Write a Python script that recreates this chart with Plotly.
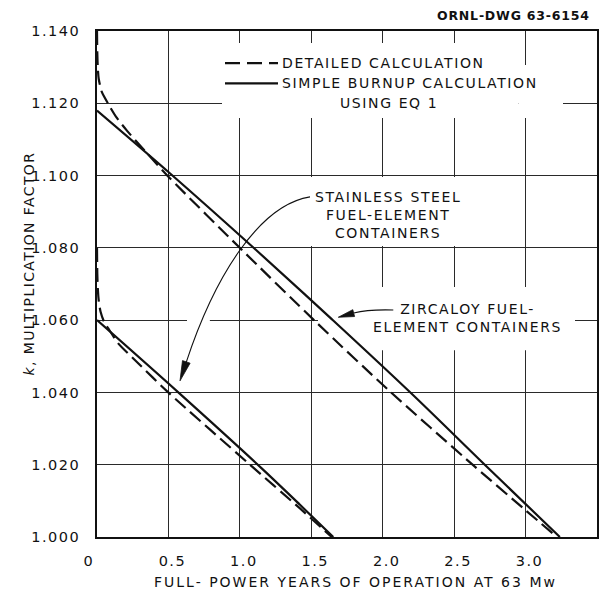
import plotly.graph_objects as go

# Zircaloy fuel-element containers: full-power years at 63 Mw vs k
zr_detailed_years = [0, 0.002, 0.006, 0.012, 0.033, 0.079, 0.138, 0.208, 0.336, 0.5,
                     1.01, 1.54, 2.05, 2.635, 3.0, 3.22]
zr_detailed_k = [1.140, 1.134, 1.1295, 1.1268, 1.1232, 1.1198, 1.1160, 1.1125, 1.1068, 1.0997,
                 1.0796, 1.0592, 1.0403, 1.0198, 1.0074, 1.000]
zr_simple_years = [0, 0.5, 1.10, 1.645, 2.19, 2.74, 3.24]
zr_simple_k = [1.118, 1.101, 1.0799, 1.0602, 1.0401, 1.0190, 1.000]

# Stainless steel fuel-element containers
ss_detailed_years = [0, 0.002, 0.006, 0.012, 0.025, 0.05, 0.079, 0.15, 0.254, 0.499,
                     1.071, 1.421, 1.643]
ss_detailed_k = [1.080, 1.073, 1.0685, 1.0655, 1.0623, 1.0595, 1.0577, 1.0535, 1.0494, 1.040,
                 1.020, 1.0079, 1.000]
ss_simple_years = [0, 0.575, 1.153, 1.421, 1.654]
ss_simple_k = [1.060, 1.0398, 1.0190, 1.0089, 1.000]

x_ticks = [0, 0.5, 1.0, 1.5, 2.0, 2.5, 3.0, 3.5]
x_tick_labels = ["0", "0.5", "1.0", "1.5", "2.0", "2.5", "3.0", "3.5"]
y_ticks = [1.000, 1.020, 1.040, 1.060, 1.080, 1.100, 1.120, 1.140]
y_tick_labels = ["1.000", "1.020", "1.040", "1.060", "1.080", "1.100", "1.120", "1.140"]

FONT = "DejaVu Sans"
INK = "#111111"
NBSP = "\u00a0"


def spaced(text, px):
    return f'<span style="letter-spacing:{px}px">{text}</span>'


fig = go.Figure()

dash_style = "14px,6px"
for xs, ys in [(zr_detailed_years, zr_detailed_k), (ss_detailed_years, ss_detailed_k)]:
    fig.add_trace(go.Scatter(x=xs, y=ys, mode="lines", cliponaxis=False,
                             line=dict(color=INK, width=2.2, dash=dash_style,
                                       shape="spline", smoothing=0.7),
                             hoverinfo="skip", showlegend=False))
for xs, ys in [(zr_simple_years, zr_simple_k), (ss_simple_years, ss_simple_k)]:
    fig.add_trace(go.Scatter(x=xs, y=ys, mode="lines", cliponaxis=False,
                             line=dict(color=INK, width=2.2, shape="spline", smoothing=1.0),
                             hoverinfo="skip", showlegend=False))

# white patches that break the grid behind the lettering
grid_breaks = [
    (0.875, 2.95, 1.1159, 1.1367),
    (2.95, 3.262, 1.1159, 1.1306),
    (1.456, 2.597, 1.0805, 1.0996),
    (1.547, 3.346, 1.0517, 1.0692),
    (0.63, 0.79, 1.0597, 1.0614),
]
for x0, x1, y0, y1 in grid_breaks:
    fig.add_shape(type="rect", xref="x", yref="y", x0=x0, x1=x1, y0=y0, y1=y1,
                  fillcolor="white", line=dict(width=0), layer="between")

# legend samples
fig.add_shape(type="line", xref="x", yref="y", x0=0.896, x1=1.267, y0=1.1311, y1=1.1311,
              line=dict(color=INK, width=2.2, dash="15px,7px"))
fig.add_shape(type="line", xref="x", yref="y", x0=0.896, x1=1.267, y0=1.1255, y1=1.1255,
              line=dict(color=INK, width=2.2))

text_font = dict(family=FONT, size=14, color=INK)
fig.add_annotation(x=1.281, y=1.1311, xref="x", yref="y", xanchor="left", yanchor="middle",
                   text=spaced("DETAILED CALCULATION", 1.6), showarrow=False, font=text_font)
fig.add_annotation(x=1.281, y=1.1255, xref="x", yref="y", xanchor="left", yanchor="middle",
                   text=spaced("SIMPLE BURNUP CALCULATION", 1.6), showarrow=False, font=text_font)
fig.add_annotation(x=2.045, y=1.1201, xref="x", yref="y", xanchor="center", yanchor="middle",
                   text=spaced("USING EQ 1", 1.6), showarrow=False, font=text_font)

# case labels
fig.add_annotation(x=2.037, y=1.0891, xref="x", yref="y", xanchor="center", yanchor="middle",
                   align="center", showarrow=False, font=text_font,
                   text=spaced("STAINLESS STEEL<br>FUEL-ELEMENT<br>CONTAINERS", 1.6))
fig.add_annotation(x=2.593, y=1.0607, xref="x", yref="y", xanchor="center", yanchor="middle",
                   align="center", showarrow=False, font=text_font,
                   text=spaced("ZIRCALOY FUEL-<br>ELEMENT CONTAINERS", 1.6))

# leader arrows
fig.add_shape(type="path", xref="x", yref="y",
              path="M 1.491,1.0941 C 1.141,1.0919 0.826,1.0725 0.625,1.0484",
              line=dict(color=INK, width=1.1))
fig.add_shape(type="path", xref="x", yref="y",
              path="M 0.581,1.0432 L 0.6517,1.0481 L 0.5985,1.0488 Z",
              fillcolor=INK, line=dict(color=INK, width=0.8))
fig.add_shape(type="path", xref="x", yref="y",
              path="M 2.074,1.0628 Q 1.90,1.0630 1.797,1.0620",
              line=dict(color=INK, width=1.1))
fig.add_shape(type="path", xref="x", yref="y",
              path="M 1.689,1.0608 L 1.803,1.0610 L 1.7906,1.0629 Z",
              fillcolor=INK, line=dict(color=INK, width=0.8))

# drawing number and axis titles
fig.add_annotation(x=0.99, y=1.0316, xref="paper", yref="paper", xanchor="right", yanchor="middle",
                   text="<b>" + spaced("ORNL-DWG 63-6154", 0.8) + "</b>", showarrow=False,
                   font=dict(family=FONT, size=12.5, color=INK))
fig.add_annotation(x=0.516, y=-0.0889, xref="paper", yref="paper", xanchor="center", yanchor="middle",
                   text=spaced("FULL- POWER YEARS OF OPERATION AT 63 Mw", 2.0), showarrow=False,
                   font=text_font)
fig.add_annotation(x=-0.136, y=0.5405, xref="paper", yref="paper", xanchor="center", yanchor="middle",
                   textangle=-90, showarrow=False, font=text_font,
                   text=spaced("<i>k</i>, MULTIPLICATION FACTOR", 1.4))

x_text = [spaced(t, 1.5) for t in x_tick_labels]
x_text[0] = spaced(x_tick_labels[0] + NBSP * 4, 1.5)
y_text = [spaced(t, 1.5) for t in y_tick_labels]

axis_common = dict(showgrid=True, gridcolor="#2a2a2a", gridwidth=1, zeroline=False,
                   showline=True, linecolor=INK, linewidth=1.6, mirror=True, ticks="",
                   tickfont=dict(family=FONT, size=14.5, color=INK))
fig.update_xaxes(range=[0, 3.5], tickmode="array", tickvals=x_ticks, ticktext=x_text,
                 ticklabelstandoff=10, ticklabelshift=4, **axis_common)
fig.update_yaxes(range=[1.0, 1.14], tickmode="array", tickvals=y_ticks, ticktext=y_text,
                 ticklabelstandoff=12, **axis_common)

fig.update_layout(width=613, height=591, margin=dict(l=97, r=16, t=31, b=54),
                  paper_bgcolor="white", plot_bgcolor="white", showlegend=False,
                  font=dict(family=FONT, color=INK))

fig.write_html("out.html")
